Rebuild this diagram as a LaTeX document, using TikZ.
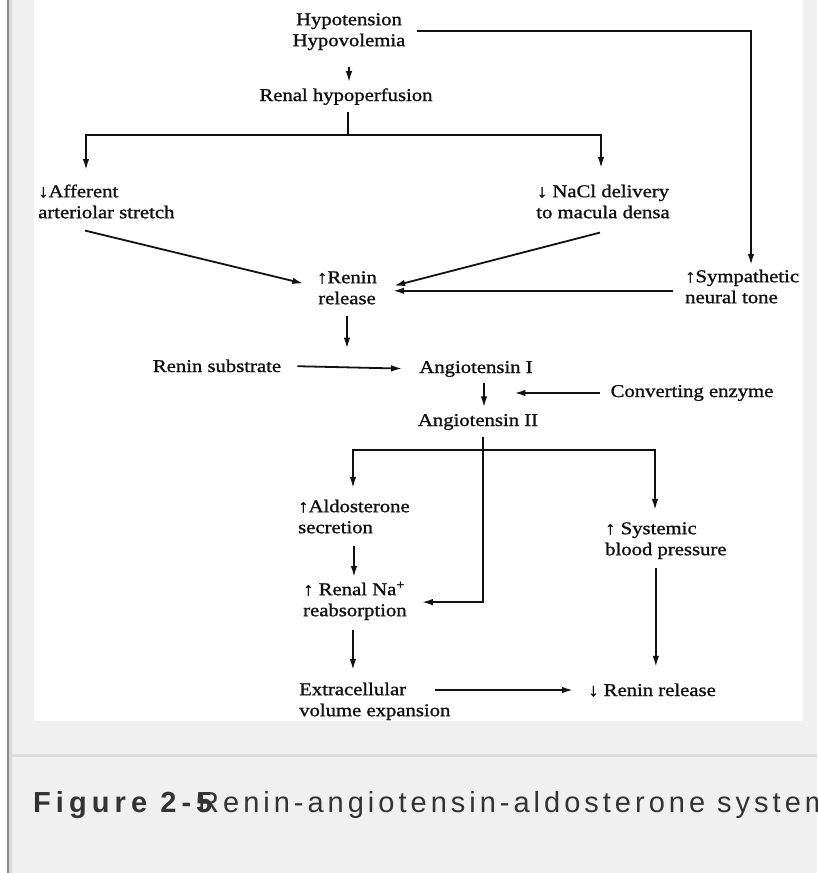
\documentclass[tikz,border=0pt]{standalone}
\usepackage{fontspec}
\setmainfont[FakeStretch=1.15,FakeBold=1.2]{Liberation Serif}
\newfontfamily\capfont[LetterSpace=13.8]{Liberation Sans}
\newfontfamily\capboldfont[LetterSpace=17.5]{Liberation Sans Bold}
\usetikzlibrary{arrows.meta}
\definecolor{pagebg}{HTML}{F0F0F0}
\definecolor{edgedark}{HTML}{8C8C8C}
\definecolor{edgelight}{HTML}{D9D9D9}
\definecolor{sepline}{HTML}{DCDCDC}
\definecolor{ink}{HTML}{111111}
\definecolor{capink}{HTML}{333333}
\begin{document}
\begin{tikzpicture}[x=1pt,y=-1pt,
  txt/.style={inner sep=0pt, font=\fontsize{18}{21}\selectfont, text=ink},
  captext/.style={inner sep=0pt, text=capink, anchor=base west},
  conn/.style={line width=1.8pt, draw=ink},
  arr/.style={conn, -{Latex[length=11pt,width=6.5pt]}}]
\clip (0,0) rectangle (817,873);
% page background and frame
\fill[pagebg] (0,0) rectangle (817,873);
\fill[white] (0,0) rectangle (7,873);
\fill[edgedark] (7,0) rectangle (8.5,873);
\fill[edgelight] (8.5,0) rectangle (12,873);
\fill[white] (34,0) rectangle (803,721);
\fill[sepline] (12,754) rectangle (817,757);
% nodes
\node[txt, anchor=north, align=center] (hypo) at (349,11) {\rule{0pt}{14pt}Hypotension\\Hypovolemia};
\node[txt, anchor=base] (renal) at (346,101) {Renal hypoperfusion};
\node[txt, anchor=north west, align=left] (aff) at (38,183) {\rule{0pt}{14pt}↓Afferent\\arteriolar stretch};
\node[txt, anchor=north, align=center] (nacl) at (603,183) {\rule{0pt}{14pt}↓ NaCl delivery\\to macula densa};
\node[txt, anchor=north, align=center] (renin) at (347,269) {\rule{0pt}{14pt}↑Renin\\release};
\node[txt, anchor=north west, align=left] (symp) at (685,268) {\rule{0pt}{14pt}↑Sympathetic\\neural tone};
\node[txt, anchor=base] (subst) at (217,372) {Renin substrate};
\node[txt, anchor=base] (ang1) at (476,373) {Angiotensin I};
\node[txt, anchor=base] (conv) at (692,397) {Converting enzyme};
\node[txt, anchor=base] (ang2) at (478,426) {Angiotensin II};
\node[txt, anchor=north west, align=left] (aldo) at (298,498) {\rule{0pt}{14pt}↑Aldosterone\\secretion};
\node[txt, anchor=north west, align=left] (syst) at (605,520) {\rule{0pt}{14pt}↑ Systemic\\blood pressure};
\node[txt, anchor=north west, align=left] (rna) at (303,581) {\rule{0pt}{14pt}↑ Renal Na\textsuperscript{+}\\reabsorption};
\node[txt, anchor=north west, align=left] (ecv) at (299,681) {\rule{0pt}{14pt}Extracellular\\volume expansion};
\node[txt, anchor=base west] (rrel) at (588,696) {↓ Renin release};
% caption
\node[captext, font=\capboldfont\fontsize{29}{34}\selectfont] (fig) at (33,812) {Figure 2-5};
\node[captext, font=\capfont\fontsize{29}{34}\selectfont] (title) at (198,812) {Renin-angiotensin-aldosterone system};
% connectors
\draw[arr, shorten <=17pt, shorten >=6pt] (hypo.south) -- (hypo.south |- renal.north);
\draw[conn, shorten <=7pt] ([xshift=2pt]renal.south) -- ++(0,30) coordinate (rb);
\draw[arr] (rb) -| ([shift={(48,-13)}]aff.north west);
\draw[arr] (rb) -| ([shift={(-2,-15)}]nacl.north);
\draw[arr, shorten <=11pt] (hypo.east) -| ([shift={(66,-3)}]symp.north west);
\draw[arr, shorten >=14pt] ([shift={(47,12)}]aff.south west) -- (renin.west);
\draw[arr] ([shift={(-3,14)}]nacl.south) -- ([shift={(17,-1)}]renin.east);
\draw[arr] ([shift={(-12,5)}]symp.west) -- ([shift={(16,4)}]renin.east);
\draw[arr, shorten <=11pt] (renin.south) -- ++(0,44);
\draw[arr, shorten <=16pt, shorten >=17pt] (subst.east) -- (ang1.west);
\draw[arr, shorten <=6pt, shorten >=6.5pt] ([xshift=8pt]ang1.south) -- ([xshift=6pt]ang2.north);
\draw[arr, shorten <=10.5pt] (conv.west) -- ++(-96,0);
\draw[arr, shorten <=7pt] ([xshift=5pt]ang2.south) |- ([shift={(15,1.5)}]rna.east);
\path ([xshift=5pt]ang2.south) ++(0,20) coordinate (j2);
\draw[arr] (j2) -| ([shift={(55,-10)}]aldo.north west);
\draw[arr] (j2) -| ([shift={(50,-10)}]syst.north west);
\draw[arr, shorten <=12pt, shorten >=4pt] (aldo.south) -- (aldo.south |- rna.north);
\draw[arr, shorten <=10pt, shorten >=11pt] ([xshift=-2pt]rna.south) -- ([xshift=-2pt]rna.south |- ecv.north);
\draw[arr, shorten >=15pt] ([shift={(136,9)}]ecv.north west) -- (rrel.west);
\draw[arr, shorten <=9pt, shorten >=16.5pt] ([xshift=-10pt]syst.south) -- ([xshift=-10pt]syst.south |- rrel.north);
\end{tikzpicture}
\end{document}
